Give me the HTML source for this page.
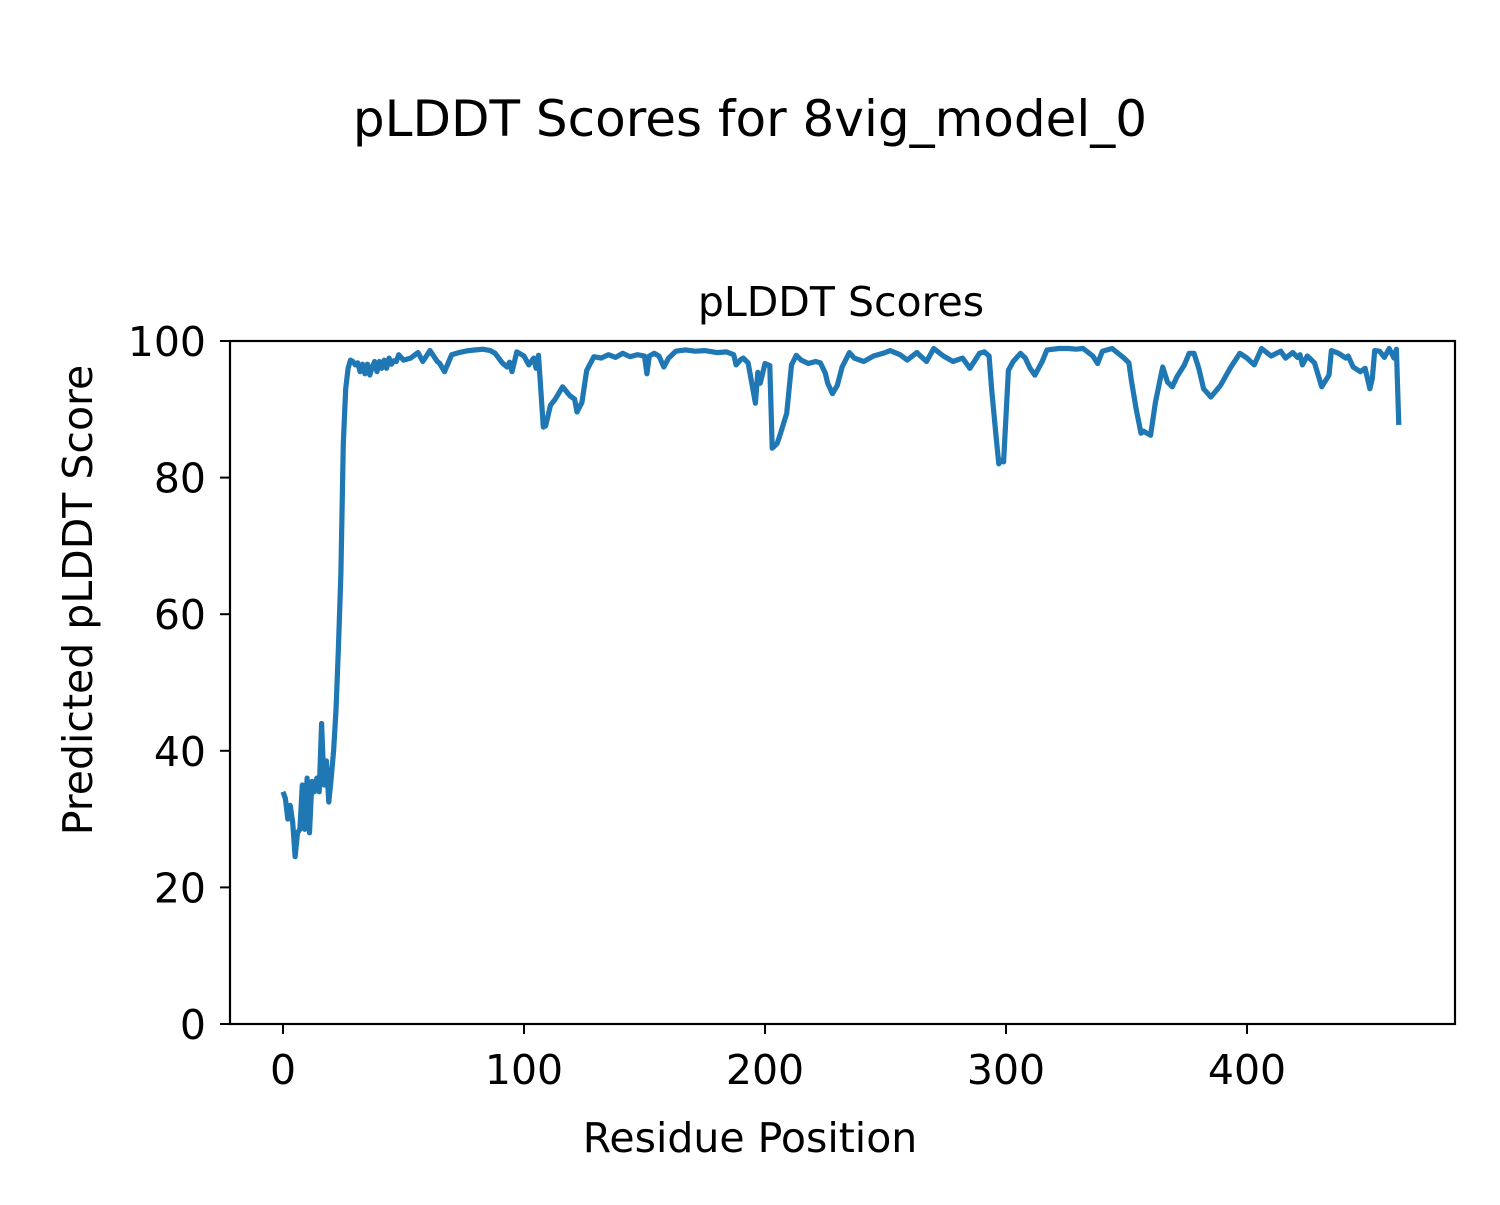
<!DOCTYPE html>
<html><head><meta charset="utf-8"><style>
body{margin:0;background:#fff}
svg text{font-family:"DejaVu Sans","Liberation Sans",sans-serif;fill:#000}
</style></head><body>
<svg id="chart" width="1500" height="1200" viewBox="0 0 1500 1200">
<rect width="1500" height="1200" fill="#fff"/>
<text x="750" y="136" font-size="50" text-anchor="middle">pLDDT Scores for 8vig_model_0</text>
<text x="841" y="316" font-size="41" text-anchor="middle">pLDDT Scores</text>
<text x="750" y="1152" font-size="41" text-anchor="middle">Residue Position</text>
<text transform="translate(92,600) rotate(-90)" font-size="41" text-anchor="middle">Predicted pLDDT Score</text>
<g id="ticks"></g>
<path id="line" fill="none" stroke="#1f77b4" stroke-width="5.2" stroke-linejoin="round"/>
<rect x="230" y="341" width="1225" height="683" fill="none" stroke="#000" stroke-width="2.2"/>
</svg>
<script>
const points=[
[0,34],[1,33],[2,30],[3,32],[4,29.5],[5,24.5],[6,28],[7,28.5],[8,35],[9,28.5],
[10,36],[11,28],[12,35.5],[13,34],[14,36],[15,34],[16,44],[17,35],[18,38.5],[19,32.5],
[20,36],[21,40],[22,46],[23,55],[24,66],[25,85],[26,93],[27,96],[28,97.2],[29,97],
[30,96.5],[31,96.8],[32,95.5],[33,96.6],[34,95.2],[35,96.6],[36,95],[37,96.2],[38,97],[39,95.5],
[40,97],[41,96],[42,97.2],[43,96],[44,97.5],[45,96.6],[46,97.1],[47,97],[48,98],[50,97.2],
[53,97.5],[56,98.3],[58,97],[61,98.6],[64,97],[65,96.7],[67,95.5],[70,98],[73,98.3],[77,98.6],
[80,98.7],[83,98.8],[86,98.6],[88,98.2],[91,96.8],[93,96.2],[94,96.9],[95,95.5],[97,98.4],[100,97.8],
[102,96.5],[104,97.5],[105,96],[106,97.9],[108,87.4],[109,87.6],[111,90.6],[113,91.5],[116,93.3],[119,92],
[121,91.5],[122,89.6],[124,91],[126,95.7],[129,97.7],[132,97.5],[135,98],[138,97.6],[141,98.2],[144,97.7],
[147,98],[150,97.8],[151,95.2],[152,97.8],[154,98.2],[156,97.8],[158,96.2],[160,97.5],[163,98.5],[167,98.7],
[171,98.5],[175,98.6],[180,98.3],[184,98.4],[187,98],[188,96.5],[190,97.3],[191,97.5],[193,96.8],[194,94.8],
[196,90.9],[197,95.4],[198,93.8],[200,96.7],[202,96.4],[203,84.3],[205,85],[206,86],[209,89.4],[211,96.5],
[213,97.9],[215,97.2],[218,96.7],[221,97],[223,96.8],[225,95.3],[226,93.8],[228,92.3],[230,93.5],[232,96.2],
[235,98.3],[237,97.5],[241,97],[245,97.8],[249,98.2],[252,98.6],[256,98],[259,97.2],[263,98.3],[267,97],
[270,98.9],[274,97.8],[278,97],[282,97.5],[285,96],[289,98.2],[291,98.4],[293,97.8],[294,93],[296,85.5],
[297,82],[298,82.5],[299,82.3],[301,95.7],[303,97],[306,98.2],[308,97.5],[310,96],[312,95],[315,97],
[317,98.7],[322,98.9],[326,98.9],[329,98.8],[332,98.9],[336,97.8],[338,96.7],[340,98.5],[344,98.9],[349,97.5],
[351,96.8],[352,94.3],[354,90],[356,86.5],[357,86.8],[359,86.4],[360,86.2],[362,91],[365,96.2],[367,94],
[369,93.3],[371,94.8],[374,96.5],[376,98.2],[378,98.2],[380,96],[382,93],[385,91.8],[389,93.5],[393,96],
[397,98.2],[400,97.5],[403,96.5],[406,98.9],[410,97.8],[414,98.5],[416,97.5],[419,98.3],[421,97.6],[422,98],
[423,96.5],[425,97.8],[428,96.8],[431,93.3],[434,95],[435,98.6],[438,98.2],[441,97.5],[442,97.8],[444,96.2],
[447,95.5],[449,96],[451,93],[452,94.5],[453,98.6],[455,98.5],[457,97.6],[459,98.9],[461,97.5],[462,98.8],[463,87.7]
];
const residues=points.map(p=>p[0]);
const scores=points.map(p=>p[1]);
const yTicks=[0,20,40,60,80,100];
const xTicks=[0,100,200,300,400];
const X0=230,X1=1455,Y0=1024,Y1=341,xmin=-22,xmax=486.3;
const xs=v=>X0+(v-xmin)/(xmax-xmin)*(X1-X0);
const ys=v=>Y0-(v/100)*(Y0-Y1);
const NS="http://www.w3.org/2000/svg";
const g=document.getElementById('ticks');
yTicks.forEach(t=>{
 const l=document.createElementNS(NS,'line');
 l.setAttribute('x1',X0-10);l.setAttribute('x2',X0);l.setAttribute('y1',ys(t));l.setAttribute('y2',ys(t));l.setAttribute('stroke','#000');l.setAttribute('stroke-width','2');
 
 
 g.appendChild(l);
 const tx=document.createElementNS(NS,'text');
 tx.setAttribute('x',X0-24);tx.setAttribute('y',ys(t)+15);tx.setAttribute('font-size','41');tx.setAttribute('text-anchor','end');tx.textContent=t;
 
 
 g.appendChild(tx);
});
xTicks.forEach(t=>{
 const l=document.createElementNS(NS,'line');
 l.setAttribute('x1',xs(t));l.setAttribute('x2',xs(t));l.setAttribute('y1',Y0);l.setAttribute('y2',Y0+10);l.setAttribute('stroke','#000');l.setAttribute('stroke-width','2');
 
 
 g.appendChild(l);
 const tx=document.createElementNS(NS,'text');
 tx.setAttribute('x',xs(t));tx.setAttribute('y',Y0+60);tx.setAttribute('font-size','41');tx.setAttribute('text-anchor','middle');tx.textContent=t;
 
 
 g.appendChild(tx);
});
document.getElementById('line').setAttribute('d',residues.map((r,i)=>(i?'L':'M')+xs(r).toFixed(1)+' '+ys(scores[i]).toFixed(1)).join(' '));
</script>
</body></html>
